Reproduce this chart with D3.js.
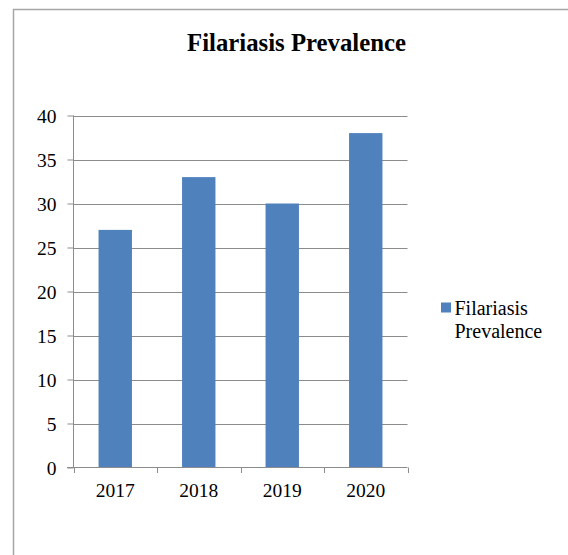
<!DOCTYPE html>
<html><head><meta charset="utf-8">
<script src="https://cdn.jsdelivr.net/npm/d3@7"></script>
<style>body{margin:0;background:#fff}svg{display:block}</style>
</head><body>
<script>
const categories = ["2017","2018","2019","2020"];
const values = [27,33,30,38];
const yTicks = [0,5,10,15,20,25,30,35,40];
const title = "Filariasis Prevalence";
const seriesName = ["Filariasis","Prevalence"];

const W=568,H=555;
const svg=d3.select("body").append("svg").attr("width",W).attr("height",H);
svg.append("rect").attr("x",13.5).attr("y",9.5).attr("width",600).attr("height",600)
  .attr("fill","#fff").attr("stroke","#a6a6a6").attr("stroke-width",1.5);

const x=d3.scaleBand().domain(categories).range([73.5,407.5]).paddingInner(0.6).paddingOuter(0.3);
const y=d3.scaleLinear().domain([0,40]).range([467.5,115.5]);

const font="'Liberation Serif','Times New Roman',serif";
function fit(sel,target){ // scale font so text width matches the reference width
  const fs=+sel.attr("font-size"); const w=sel.node().getComputedTextLength();
  sel.attr("font-size",fs*target/w); }

const tt=svg.append("text").attr("x",296.5).attr("y",51).attr("text-anchor","middle")
  .style("font-family",font).attr("font-weight","bold").attr("font-size",24).attr("fill","#000").text(title);
fit(tt,219);

// gridlines
svg.append("g").selectAll("line").data(yTicks.filter(d=>d>0)).join("line")
  .attr("x1",73.5).attr("x2",407.5).attr("y1",d=>Math.round(y(d))+0.5).attr("y2",d=>Math.round(y(d))+0.5)
  .attr("stroke","#8c8c8c").attr("stroke-width",1);

// bars
svg.append("g").selectAll("rect").data(values).join("rect")
  .attr("x",(d,i)=>x(categories[i])).attr("width",x.bandwidth())
  .attr("y",d=>y(d)).attr("height",d=>y(0)-y(d)).attr("fill","#4f81bd");

// y axis
const yAx=d3.axisLeft(y).tickValues(yTicks).tickSize(6).tickPadding(11);
const gy=svg.append("g").attr("transform","translate(73.5,0)").call(yAx);
gy.selectAll("text").style("font-family",font).attr("font-size",19.5).attr("fill","#000").attr("dy","0.34em");
gy.selectAll("line,path").attr("stroke","#8c8c8c");
gy.select(".domain").attr("d","M0,115.5V467.5");

// x axis
const xEdge=d3.scaleLinear().domain([0,4]).range([73.5,407.5]);
const gx=svg.append("g");
gx.append("line").attr("x1",67).attr("x2",407.5).attr("y1",467.5).attr("y2",467.5).attr("stroke","#8c8c8c");
gx.selectAll("line.t").data(d3.range(5)).join("line").attr("class","t")
  .attr("x1",d=>Math.round(xEdge(d))+0.5).attr("x2",d=>Math.round(xEdge(d))+0.5)
  .attr("y1",467.5).attr("y2",473).attr("stroke","#8c8c8c");
gx.selectAll("text").data(categories).join("text")
  .attr("x",d=>x(d)+x.bandwidth()/2).attr("y",497).attr("text-anchor","middle")
  .style("font-family",font).attr("font-size",19.5).attr("fill","#000").text(d=>d);

// legend
svg.append("rect").attr("x",441).attr("y",302.5).attr("width",10).attr("height",10).attr("fill","#4f81bd");
const lg=svg.append("text").style("font-family",font).attr("font-size",20).attr("fill","#000");
lg.selectAll("tspan").data(seriesName).join("tspan").attr("x",454.5).attr("y",(d,i)=>314.5+i*23).text(d=>d);
</script>
</body></html>
